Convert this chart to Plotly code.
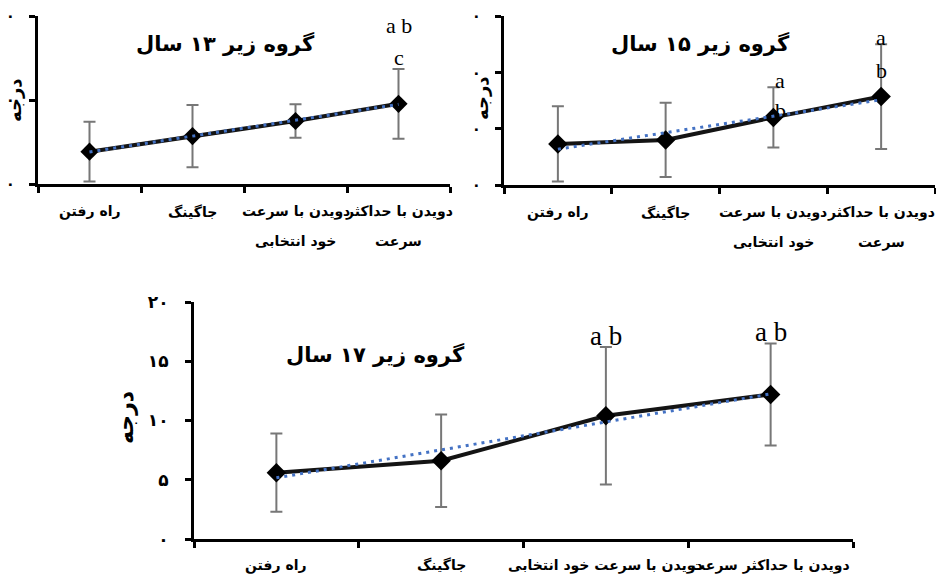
import numpy as np
import plotly.graph_objects as go

W, H = 936, 577

# Activity categories (x axis)
CATEGORIES = ["راه رفتن", "جاگینگ", "دویدن با سرعت خود انتخابی", "دویدن با حداکثر سرعت"]
# Same labels broken onto two lines for the narrower panels
WRAPPED_LABELS = ["راه رفتن", "جاگینگ", "دویدن با سرعت<br>خود انتخابی", "دویدن با حداکثر<br>سرعت"]

# Mean and SD per age group
U13_MEAN = [3.85, 5.7, 7.5, 9.55]
U13_SD = [3.55, 3.7, 2.0, 4.15]
U15_MEAN = [7.3, 8.0, 12.0, 15.7]
U15_SD = [6.7, 6.6, 5.35, 9.3]
U17_MEAN = [5.6, 6.6, 10.4, 12.2]
U17_SD = [3.3, 3.9, 5.8, 4.3]

TITLES = ["گروه زیر ۱۳ سال", "گروه زیر ۱۵ سال", "گروه زیر ۱۷ سال"]
Y_TITLE = "درجه"

# y-axis ticks
U13_TICKS = [0, 10, 20]
U15_TICKS = [0, 10, 20, 30]
U17_TICKS = [0, 5, 10, 15, 20]
U17_TICK_TEXT = ["۰", "۵", "۱۰", "۱۵", "۲۰"]

FA = "DejaVu Sans"
SERIF = "Liberation Serif"


def fx(px):
    return px / W


def fy(py):
    return 1 - py / H


panels = [
    dict(mean=U13_MEAN, sd=U13_SD, title=TITLES[0], labels=WRAPPED_LABELS,
         x0=38, x1=450, y0=16, y1=184, yr=[0, 20], ticks=U13_TICKS,
         ticktext=["۰"] * len(U13_TICKS), tickfont=15, standoff=11,
         title_xy=(225, 43), title_size=21, ytitle_xy=(15, 100), ytitle_size=18,
         cat_font=14, line_gap=30, first_gap=28, marker=14, lw=4,
         letters=[(3, "a b", 18.9, 0), (3, "c", 15.1, 0)], letter_size=22),
    dict(mean=U15_MEAN, sd=U15_SD, title=TITLES[1], labels=WRAPPED_LABELS,
         x0=504, x1=935, y0=16, y1=185, yr=[0, 30], ticks=U15_TICKS,
         ticktext=["۰"] * len(U15_TICKS), tickfont=15, standoff=11,
         title_xy=(700, 43), title_size=21, ytitle_xy=(481, 98), ytitle_size=18,
         cat_font=14, line_gap=30, first_gap=28, marker=15, lw=4,
         letters=[(2, "a", 18.6, 7), (2, "b", 13.3, 7), (3, "a", 26.1, 0), (3, "b", 20.4, 0)],
         letter_size=22),
    dict(mean=U17_MEAN, sd=U17_SD, title=TITLES[2], labels=CATEGORIES,
         x0=194, x1=853, y0=302, y1=539, yr=[0, 20], ticks=U17_TICKS,
         ticktext=U17_TICK_TEXT, tickfont=17, standoff=13,
         title_xy=(375, 354), title_size=21, ytitle_xy=(125, 418), ytitle_size=22,
         cat_font=14, line_gap=30, first_gap=26, marker=15, lw=4,
         letters=[(2, "a b", 17.1, 0), (3, "a b", 17.5, 0)], letter_size=27),
]

fig = go.Figure()
annotations = []
layout = {}

for i, p in enumerate(panels, start=1):
    xa = "x" if i == 1 else f"x{i}"
    ya = "y" if i == 1 else f"y{i}"
    xkey = "xaxis" if i == 1 else f"xaxis{i}"
    ykey = "yaxis" if i == 1 else f"yaxis{i}"

    layout[xkey] = dict(
        domain=[fx(p["x0"]), fx(p["x1"])], anchor=ya, type="category",
        categoryorder="array", categoryarray=CATEGORIES, range=[-0.5, 3.5],
        showline=True, linecolor="black", linewidth=3, ticks="outside",
        tickson="boundaries", ticklen=6, tickwidth=3, tickcolor="black",
        showticklabels=False, showgrid=False, zeroline=False, fixedrange=True,
        automargin=False,
    )
    layout[ykey] = dict(
        domain=[fy(p["y1"]), fy(p["y0"])], anchor=xa, range=p["yr"],
        tickmode="array", tickvals=p["ticks"], ticktext=p["ticktext"],
        tickfont=dict(family=FA, size=p["tickfont"], color="black", weight="bold"),
        ticklabelstandoff=p["standoff"],
        showline=True, linecolor="black", linewidth=3, ticks="outside",
        ticklen=6, tickwidth=3, tickcolor="black",
        showgrid=False, zeroline=False, fixedrange=True, automargin=False,
    )

    # mean values with SD error bars
    fig.add_trace(go.Scatter(
        x=CATEGORIES, y=p["mean"], xaxis=xa, yaxis=ya, mode="lines+markers",
        line=dict(color="#141414", width=p["lw"]),
        marker=dict(symbol="diamond", size=p["marker"], color="black"),
        error_y=dict(type="data", array=p["sd"], visible=True,
                     color="#777777", thickness=2, width=6),
        showlegend=False, hoverinfo="skip",
    ))

    # linear trend of the means
    idx = np.arange(len(CATEGORIES))
    slope, icpt = np.polyfit(idx, p["mean"], 1)
    fig.add_trace(go.Scatter(
        x=[CATEGORIES[0], CATEGORIES[-1]], y=[icpt, icpt + slope * idx[-1]],
        xaxis=xa, yaxis=ya, mode="lines",
        line=dict(color="#4472C4", width=3, dash="3px,5px"),
        showlegend=False, hoverinfo="skip",
    ))

    # panel title
    tx, ty = p["title_xy"]
    annotations.append(dict(
        xref="paper", yref="paper", x=fx(tx), y=fy(ty), text=f"<b>{p['title']}</b>",
        showarrow=False, xanchor="center", yanchor="middle",
        font=dict(family=FA, size=p["title_size"], color="black"),
    ))
    # y-axis title
    yx, yy = p["ytitle_xy"]
    annotations.append(dict(
        xref="paper", yref="paper", x=fx(yx), y=fy(yy), text=f"<b>{Y_TITLE}</b>",
        showarrow=False, xanchor="center", yanchor="middle", textangle=-90,
        font=dict(family=FA, size=p["ytitle_size"], color="black"),
    ))
    # category labels, one annotation per line
    for cat, lab in zip(CATEGORIES, p["labels"]):
        for k, line in enumerate(lab.split("<br>")):
            annotations.append(dict(
                xref=xa, yref="paper", x=cat, y=fy(p["y1"]),
                yshift=-(p["first_gap"] + k * p["line_gap"]),
                text=f"<b>{line}</b>", showarrow=False,
                xanchor="center", yanchor="middle",
                font=dict(family=FA, size=p["cat_font"], color="black"),
            ))
    # significance letters
    for ci, txt, yv, xs in p["letters"]:
        annotations.append(dict(
            xref=xa, yref=ya, x=CATEGORIES[ci], y=yv, xshift=xs, text=txt,
            showarrow=False, xanchor="center", yanchor="middle",
            font=dict(family=SERIF, size=p["letter_size"], color="black"),
        ))

fig.update_layout(
    width=W, height=H,
    margin=dict(l=0, r=0, t=0, b=0, pad=0, autoexpand=False),
    paper_bgcolor="white", plot_bgcolor="white",
    annotations=annotations, **layout,
)

fig.write_html("out.html")
